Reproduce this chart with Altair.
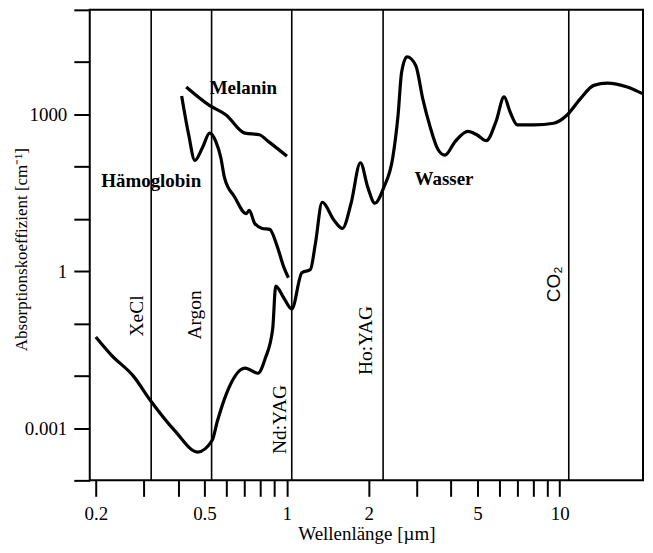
import altair as alt
import pandas as pd

# --- data ---
water_wl = [0.2, 0.228, 0.275, 0.318, 0.389, 0.472, 0.533, 0.558, 0.6, 0.7035, 0.785, 0.835,
            0.889, 0.912, 0.974, 1.044, 1.137, 1.222, 1.275, 1.349, 1.491, 1.601, 1.72, 1.863,
            1.983, 2.105, 2.269, 2.447, 2.56, 2.637, 2.759, 2.973, 3.151, 3.338, 3.585, 3.799,
            4.148, 4.61, 4.973, 5.39, 5.845, 6.26, 6.58, 7.0, 8.07, 9.51, 10.65, 11.92, 13.34,
            14.94, 17.69, 20.1]
water_abs = [0.0553, 0.0249, 0.00975, 0.00329, 0.000893, 0.000348, 0.000578, 0.00138, 0.00438,
             0.014, 0.0112, 0.0216, 0.079, 0.521, 0.315, 0.189, 0.933, 1.08, 3.43, 20.9, 9.45,
             6.59, 19.5, 119, 40.2, 20.0, 40.2, 148, 975, 6400, 12650, 8550, 2005, 631, 213, 166,
             305, 472, 408, 315, 728, 2160, 1125, 631, 631, 676, 975, 2005, 3590, 3960, 3335, 2490]

hb_wl = [0.4125, 0.4377, 0.461, 0.491, 0.5224, 0.55, 0.574, 0.592, 0.6456, 0.7118, 0.7297,
         0.764, 0.8145, 0.867, 0.924, 0.974, 1.0146]
hb_abs = [2255, 408, 132, 228, 438, 305, 148, 62, 26, 12.6, 14.6, 8.2, 6.59, 6.31, 2.96, 1.24, 0.75]

mel_wl = [0.4287, 0.5195, 0.6, 0.7035, 0.794, 0.856, 1.002]
mel_abs = [3335, 1503, 975, 438, 408, 305, 159]

curve_labels = ["Melanin", "Hämoglobin", "Wasser"]
curve_label_wl = [0.694, 0.319, 3.77]
curve_label_abs = [3190, 53.7, 58.6]

laser_names = ["XeCl", "Argon", "Nd:YAG", "Ho:YAG", "CO₂"]
laser_wl = [0.319, 0.531, 1.044, 2.256, 10.8]
laser_label_wl = [0.283, 0.462, 0.944, 1.961, 9.5]
laser_label_abs = [0.1396, 0.146, 0.00146, 0.0472, 0.561]

x_ticks = [0.2, 0.3, 0.4, 0.5, 0.6, 0.7, 0.8, 0.9, 1, 2, 3, 4, 5, 6, 7, 8, 9, 10]
y_ticks = [1e-4, 1e-3, 1e-2, 1e-1, 1, 10, 100, 1000, 1e4, 1e5]

# --- tables ---
curves = pd.concat([
    pd.DataFrame({"wl": water_wl, "a": water_abs, "s": "Wasser"}),
    pd.DataFrame({"wl": hb_wl, "a": hb_abs, "s": "Hämoglobin"}),
    pd.DataFrame({"wl": mel_wl, "a": mel_abs, "s": "Melanin"}),
])
lasers = pd.DataFrame({"name": laser_names, "wl": laser_wl,
                       "lwl": laser_label_wl, "la": laser_label_abs})
clabels = pd.DataFrame({"name": curve_labels, "wl": curve_label_wl, "a": curve_label_abs})

SERIF = "Liberation Serif"

xscale = alt.Scale(type="log", domain=[0.19, 20.2], nice=False)
yscale = alt.Scale(type="log", domain=[1e-4, 1e5], nice=False)

xaxis = alt.Axis(
    title="Wellenlänge [µm]", values=x_ticks, grid=False, domain=False,
    tickSize=16, tickWidth=2, tickColor="black",
    labelExpr="indexof([0.2,0.5,1,2,5,10], datum.value) >= 0 ? '' + datum.value : ''",
    labelFont=SERIF, labelFontSize=19, labelColor="black", labelPadding=8,
    labelOverlap=False, labelFlush=False,
    titleFont=SERIF, titleFontSize=19, titleFontWeight="normal", titleColor="black",
    titleY=53, titleBaseline="middle",
)
yaxis = alt.Axis(
    title="Absorptionskoeffizient [cm⁻¹]", values=y_ticks, grid=False, domain=False,
    tickSize=16, tickWidth=2, tickColor="black",
    labelExpr="datum.value == 1000 ? '1000' : datum.value == 1 ? '1' : datum.value == 0.001 ? '0.001' : ''",
    labelFont=SERIF, labelFontSize=19, labelColor="black", labelPadding=7,
    labelOverlap=False, labelFlush=False,
    titleFont=SERIF, titleFontSize=17, titleFontWeight="normal", titleColor="black",
    titleX=-68, titleY=240, titleAngle=270, titleAlign="center", titleBaseline="middle",
)

rules = alt.Chart(lasers).mark_rule(color="black", strokeWidth=1.6).encode(
    x=alt.X("wl:Q", scale=xscale, axis=xaxis)
)

lines = alt.Chart(curves).mark_line(color="black", strokeWidth=3.2, interpolate="monotone").encode(
    x=alt.X("wl:Q", scale=xscale, axis=xaxis),
    y=alt.Y("a:Q", scale=yscale, axis=yaxis),
    detail="s:N",
)

ctext = alt.Chart(clabels).mark_text(
    font=SERIF, fontSize=19, fontWeight="bold", color="black", align="center", baseline="middle"
).encode(
    x=alt.X("wl:Q", scale=xscale), y=alt.Y("a:Q", scale=yscale), text="name:N"
)

ltext_serif = alt.Chart(lasers).transform_filter("datum.name != 'CO₂'").mark_text(
    font=SERIF, fontSize=19.5, color="black", angle=270, align="center", baseline="middle"
).encode(
    x=alt.X("lwl:Q", scale=xscale), y=alt.Y("la:Q", scale=yscale), text="name:N"
)
ltext_sans = alt.Chart(lasers).transform_filter("datum.name == 'CO₂'").mark_text(
    font="Liberation Sans", fontSize=19, color="black", angle=270, align="center", baseline="middle"
).encode(
    x=alt.X("lwl:Q", scale=xscale), y=alt.Y("la:Q", scale=yscale), text="name:N"
)

chart = alt.layer(rules, lines, ctext, ltext_serif, ltext_sans).properties(
    width=555, height=472,
    autosize=alt.AutoSizeParams(type="none"),
    padding={"left": 82, "top": 1, "right": 2, "bottom": 64},
    background="white",
).configure_view(stroke="black", strokeWidth=2)

chart.save("out.html", embed_options={"renderer": "svg", "actions": False})
